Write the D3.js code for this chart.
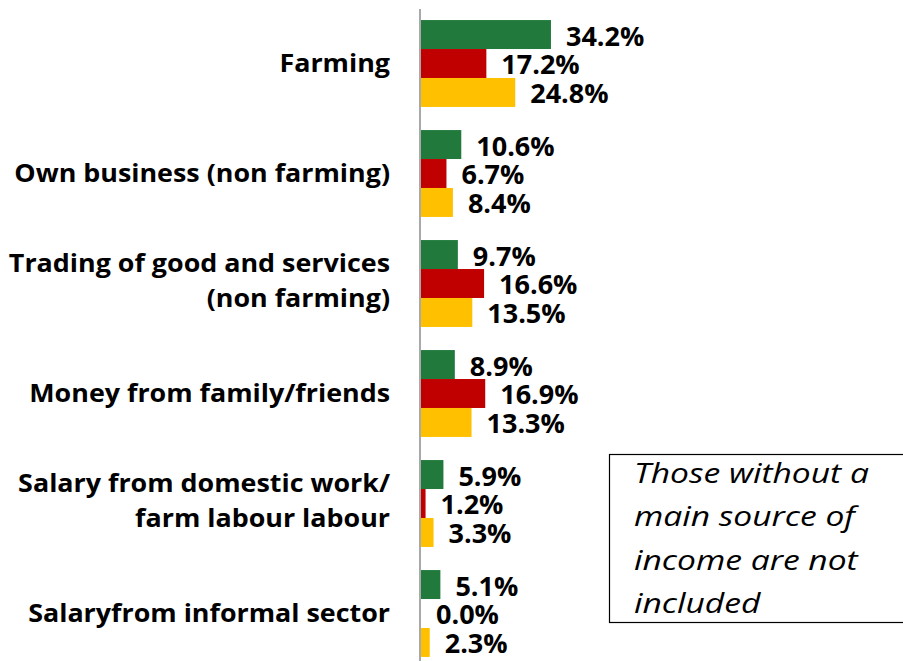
<!DOCTYPE html>
<html>
<head>
<meta charset="utf-8">
<script src="https://cdn.jsdelivr.net/npm/d3@7"></script>
<style>
  html, body { margin: 0; padding: 0; background: #fff; }
  svg { display: block; }
</style>
</head>
<body>
<svg id="chart" width="903" height="661"></svg>
<script>
// Main source of income, share of respondents per group
const categories = [
  ["Farming"],
  ["Own business (non farming)"],
  ["Trading of good and services", "(non farming)"],
  ["Money from family/friends"],
  ["Salary from domestic work/", "farm labour labour"],
  ["Salaryfrom informal sector"]
];
const seriesKeys = ["g1", "g2", "g3"];
const seriesColors = ["#217a3c", "#c00000", "#ffc000"];
const valuesG1 = [34.2, 10.6, 9.7, 8.9, 5.9, 5.1];
const valuesG2 = [17.2, 6.7, 16.6, 16.9, 1.2, 0.0];
const valuesG3 = [24.8, 8.4, 13.5, 13.3, 3.3, 2.3];
const noteLines = ["Those without a", "main source of", "income are not", "included"];

const seriesValues = [valuesG1, valuesG2, valuesG3];
const catKeys = categories.map(c => c.join(" "));
const rows = catKeys.map((k, i) => ({
  key: k,
  lines: categories[i],
  vals: seriesKeys.map((s, j) => ({ series: s, color: seriesColors[j], value: seriesValues[j][i] }))
}));

const svg = d3.select("#chart");
const font = "'Open Sans', Lato, sans-serif";

const y0 = d3.scaleBand().domain(catKeys).range([8.5, 668.5]).paddingInner(0.21).paddingOuter(0.105);
const y1 = d3.scaleBand().domain(seriesKeys).range([0, y0.bandwidth()]);
const x = d3.scaleLinear().domain([0, 40]).range([421, 573]);

// groups of bars
const g = svg.append("g").selectAll("g.cat").data(rows).join("g")
  .attr("class", "cat")
  .attr("transform", d => `translate(0,${y0(d.key)})`);

g.selectAll("rect").data(d => d.vals).join("rect")
  .attr("x", x(0))
  .attr("y", d => y1(d.series))
  .attr("width", d => x(d.value) - x(0))
  .attr("height", y1.bandwidth())
  .attr("fill", d => d.color);

g.selectAll("text.val").data(d => d.vals).join("text")
  .attr("class", "val")
  .attr("x", d => x(d.value) + 15)
  .attr("y", d => y1(d.series) + y1.bandwidth() / 2 + 11)
  .attr("font-family", font)
  .attr("font-weight", "bold")
  .attr("font-size", 27)
  .attr("fill", "#000")
  .text(d => d.value.toFixed(1) + "%");

// category labels, slightly widened
const lineH = 35;
svg.append("g").selectAll("text.cat").data(rows).join("text")
  .attr("class", "cat")
  .attr("text-anchor", "end")
  .attr("transform", "translate(390,0) scale(1.075,1)")
  .attr("font-family", font)
  .attr("font-weight", "bold")
  .attr("font-size", 25)
  .attr("fill", "#000")
  .each(function(d) {
    const cy = y0(d.key) + y0.bandwidth() / 2;
    const n = d.lines.length;
    const off = n === 1 ? 9 : 6.5;
    d3.select(this).selectAll("tspan").data(d.lines).join("tspan")
      .attr("x", 0)
      .attr("y", (l, i) => cy + off + (i - (n - 1) / 2) * lineH)
      .text(l => l);
  });

// vertical category axis line
svg.append("line")
  .attr("x1", 420).attr("x2", 420)
  .attr("y1", 9).attr("y2", 661)
  .attr("stroke", "#8c8c8c").attr("stroke-width", 1.5);

// note box
svg.append("rect")
  .attr("x", 609.5).attr("y", 454.5)
  .attr("width", 300).attr("height", 168)
  .attr("fill", "#fff").attr("stroke", "#000").attr("stroke-width", 1.2);

svg.append("text")
  .attr("transform", "translate(634,0) scale(1.2,1)")
  .attr("font-family", font)
  .attr("font-style", "italic")
  .attr("font-size", 28)
  .attr("fill", "#000")
  .selectAll("tspan").data(noteLines).join("tspan")
  .attr("x", 0)
  .attr("y", (d, i) => 483 + i * 43.5)
  .text(d => d);
</script>
</body>
</html>
